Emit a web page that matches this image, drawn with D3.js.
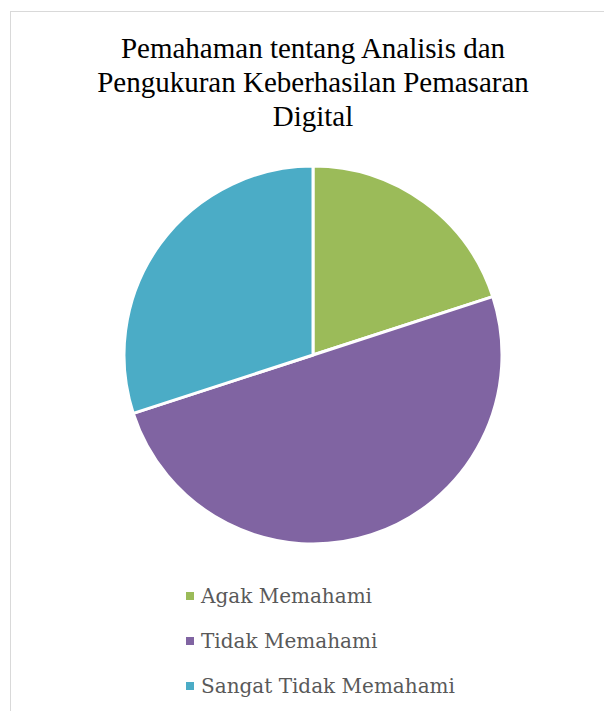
<!DOCTYPE html>
<html>
<head>
<meta charset="utf-8">
<script src="https://cdn.jsdelivr.net/npm/d3@7"></script>
<style>
  html, body { margin: 0; padding: 0; background: #fff; }
  .title { font-family: 'Liberation Serif', 'Times New Roman', Times, serif; }
</style>
</head>
<body>
<div id="chart"></div>
<script>
// data
const categories = ['Agak Memahami', 'Tidak Memahami', 'Sangat Tidak Memahami'];
const values = [2, 5, 3];
const colors = ['#9BBB59', '#8064A2', '#4BACC6'];
const titleLines = ['Pemahaman tentang Analisis dan', 'Pengukuran Keberhasilan Pemasaran', 'Digital'];

const width = 604, height = 711;
const cx = 313, cy = 355, radius = 189;

const svg = d3.select('#chart')
              .append('svg')
              .attr('width', width)
              .attr('height', height);

// chart frame (goes off the right and bottom edge)
svg.append('rect')
    .attr('x', 10.5)
    .attr('y', 11.5)
    .attr('width', 700)
    .attr('height', 800)
    .style('fill', '#fff')
    .style('stroke', '#d9d9d9')
    .style('stroke-width', '1px');

let title = svg.append('text')
    .attr('class', 'title')
    .attr('x', cx)
    .attr('y', 58)
    .style('text-anchor', 'middle')
    .style('font-size', '29px')
    .style('fill', '#000');

title.selectAll('tspan')
    .data(titleLines)
    .enter()
    .append('tspan')
    .attr('x', cx)
    .attr('dy', (d, i) => i === 0 ? 0 : 34)
    .text(d => d);

let pie = d3.pie().sort(null).value(d => d);
let arc = d3.arc().innerRadius(0).outerRadius(radius);

let color = d3.scaleOrdinal().domain(categories).range(colors);

svg.append('g')
    .attr('transform', 'translate(' + cx + ',' + cy + ')')
    .selectAll('path')
    .data(pie(values))
    .enter()
    .append('path')
    .attr('d', arc)
    .style('fill', (d, i) => color(categories[i]))
    .style('stroke', '#fff')
    .style('stroke-width', '3px')
    .style('stroke-linejoin', 'round');

// legend
let legendY = d3.scalePoint().domain(categories).range([596, 686]);

let legend = svg.selectAll('.legend')
    .data(categories)
    .enter()
    .append('g')
    .attr('class', 'legend')
    .attr('transform', d => 'translate(186,' + legendY(d) + ')');

legend.append('rect')
    .attr('x', 0)
    .attr('y', -4)
    .attr('width', 8)
    .attr('height', 8)
    .style('fill', d => color(d));

legend.append('text')
    .attr('x', 15)
    .attr('y', 7)
    .style('font-family', '"DejaVu Serif", serif')
    .style('font-size', '20px')
    .style('fill', '#595959')
    .text(d => d);
</script>
</body>
</html>
